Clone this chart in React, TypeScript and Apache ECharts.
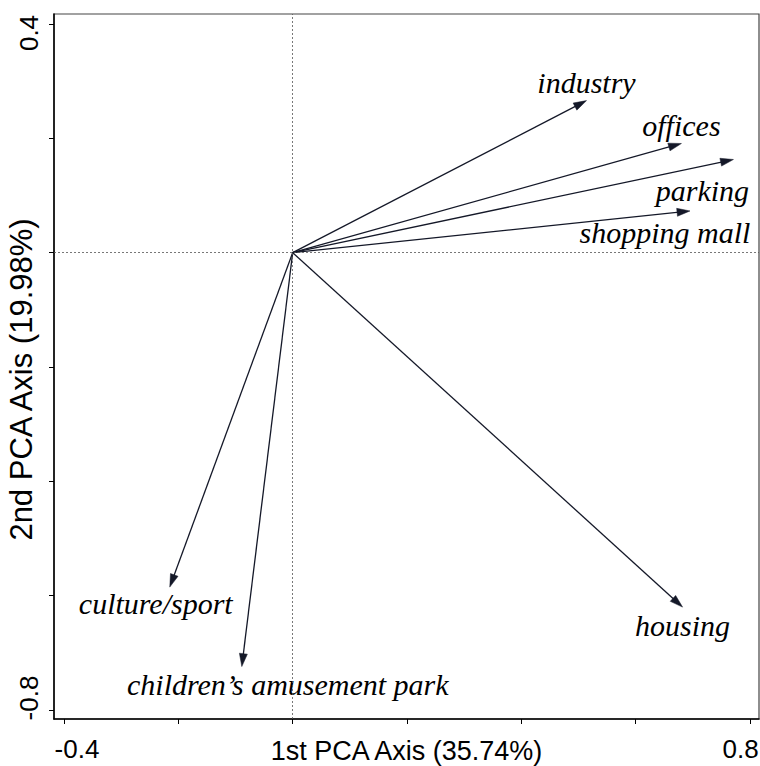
import React, { useEffect, useRef } from "react";
import * as echarts from "echarts";

const categories = [
  "industry",
  "offices",
  "parking",
  "shopping mall",
  "housing",
  "culture/sport",
  "children’s amusement park",
];
const pc1 = [0.514, 0.68, 0.771, 0.695, 0.682, -0.215, -0.089];
const pc2 = [0.266, 0.191, 0.163, 0.073, -0.62, -0.585, -0.724];

const xTicks = [-0.4, -0.2, 0, 0.2, 0.4, 0.6, 0.8];
const xTickLabels = [-0.4, 0.8];
const yTicks = [-0.8, -0.6, -0.4, -0.2, 0, 0.2, 0.4];
const yTickLabels = [-0.8, 0.4];

const xTitle = "1st PCA Axis (35.74%)";
const yTitle = "2nd PCA Axis (19.98%)";

// label placement relative to arrow tip: [dx, dy of baseline] in px
const labelOffsets = [
  [0, -8],
  [0, -8],
  [-31, 41],
  [-25, 32],
  [0, 28],
  [-14, 26],
  [46, 28],
];

const SANS = "'Liberation Sans', Arial, sans-serif";
const SERIF = "'Liberation Serif', 'Times New Roman', serif";
const ARROW = "#141828";

export default function App() {
  const ref = useRef<HTMLDivElement>(null);
  useEffect(() => {
    document.body.style.margin = "0";
    const chart = echarts.init(ref.current!, null, { renderer: "svg" });
    const data = pc1.map((v, i) => [v, pc2[i]]);
    chart.setOption({
      animation: false,
      backgroundColor: "#fff",
      grid: {
        left: 54,
        top: 14,
        width: 705,
        height: 705,
        outerBoundsMode: "none",
        containLabel: false,
        show: true,
        borderColor: "#444",
        borderWidth: 1.2,
      },
      xAxis: {
        type: "value",
        min: -0.4175,
        max: 0.8157,
        name: xTitle,
        nameLocation: "middle",
        nameGap: 18,
        nameMoveOverlap: false,
        nameTextStyle: { fontFamily: SANS, fontSize: 27, color: "#000" },
        axisLine: { onZero: false, lineStyle: { color: "#000", width: 1.5 } },
        axisTick: {
          customValues: xTicks,
          length: 5,
          lineStyle: { color: "#000", width: 1 },
        },
        axisLabel: {
          customValues: xTickLabels,
          margin: 17,
          formatter: (v: number) => (v < 0 ? `{l|${v.toFixed(1)}}` : `{r|${v.toFixed(1)}}`),
          rich: {
            l: { fontFamily: SANS, fontSize: 26, color: "#000", padding: [0, 0, 0, 26] },
            r: { fontFamily: SANS, fontSize: 26, color: "#000", padding: [0, 19, 0, 0] },
          },
        },
        splitLine: { show: false },
      },
      yAxis: {
        type: "value",
        min: -0.8157,
        max: 0.4175,
        name: yTitle,
        nameLocation: "middle",
        nameGap: 17,
        nameMoveOverlap: false,
        nameTextStyle: {
          fontFamily: SANS,
          fontSize: 31,
          color: "#000",
          padding: [0, 26, 0, 0],
        },
        axisLine: { onZero: false, lineStyle: { color: "#000", width: 1.5 } },
        axisTick: {
          customValues: yTicks,
          length: 5,
          lineStyle: { color: "#000", width: 1 },
        },
        axisLabel: {
          customValues: yTickLabels,
          rotate: 90,
          margin: 12,
          formatter: (v: number) => (v > 0 ? `{t|${v.toFixed(1)}}` : `{b|${v.toFixed(1)}}`),
          rich: {
            t: { fontFamily: SANS, fontSize: 26, color: "#000", padding: [0, 18, 0, 0] },
            b: { fontFamily: SANS, fontSize: 26, color: "#000", padding: [0, 0, 0, 24] },
          },
        },
        splitLine: { show: false },
      },
      series: [
        {
          type: "scatter",
          data: [],
          silent: true,
          markLine: {
            silent: true,
            symbol: "none",
            label: { show: false },
            lineStyle: { color: "#555", width: 0.8, type: [2, 2] },
            data: [{ xAxis: 0 }, { yAxis: 0 }],
          },
        },
        {
          type: "custom",
          clip: false,
          silent: true,
          encode: { x: 0, y: 1 },
          data,
          renderItem: (params: any, api: any) => {
            const i = params.dataIndex;
            const o = api.coord([0, 0]);
            const t = api.coord([api.value(0), api.value(1)]);
            const dx = t[0] - o[0];
            const dy = t[1] - o[1];
            const len = Math.hypot(dx, dy);
            const ux = dx / len;
            const uy = dy / len;
            const headLen = 13;
            const headW = 4;
            const bx = t[0] - ux * headLen;
            const by = t[1] - uy * headLen;
            const off = labelOffsets[i];
            return {
              type: "group",
              children: [
                {
                  type: "line",
                  shape: { x1: o[0], y1: o[1], x2: bx + ux * 2, y2: by + uy * 2 },
                  style: { stroke: ARROW, lineWidth: 1.3 },
                },
                {
                  type: "polygon",
                  shape: {
                    points: [
                      [t[0], t[1]],
                      [bx - uy * headW, by + ux * headW],
                      [bx + uy * headW, by - ux * headW],
                    ],
                  },
                  style: { fill: ARROW, stroke: ARROW, lineWidth: 0.5 },
                },
                {
                  type: "text",
                  style: {
                    text: categories[i],
                    x: t[0] + off[0],
                    y: t[1] + off[1] - 10,
                    align: "center",
                    verticalAlign: "middle",
                    fontFamily: SERIF,
                    fontStyle: "italic",
                    fontSize: 30,
                    fill: "#000",
                  },
                },
              ],
            };
          },
        },
      ],
    });
    return () => chart.dispose();
  }, []);
  return (
    <div
      ref={ref}
      style={{ position: "fixed", left: 0, top: 0, width: 760, height: 766 }}
    />
  );
}
